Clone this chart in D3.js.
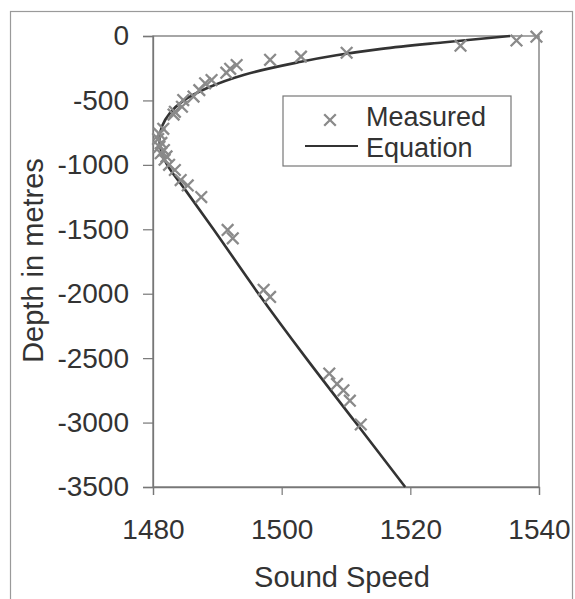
<!DOCTYPE html>
<html>
<head>
<meta charset="utf-8">
<script src="https://cdn.jsdelivr.net/npm/d3@7/dist/d3.min.js"></script>
<style>
  html, body { margin: 0; padding: 0; background: #ffffff; }
  svg { display: block; }
  text { font-family: "Liberation Sans", Arial, sans-serif; fill: #333; }
</style>
</head>
<body>
<svg id="chart" width="575" height="599"></svg>
<script>
// Measured sound speed (m/s) against depth (m)
const measuredSpeed = [1539.6, 1536.5, 1527.8, 1510.1, 1503.0, 1498.2, 1493.0, 1492.0, 1491.4,
  1489.1, 1488.1, 1487.2, 1486.3, 1484.7, 1484.5, 1483.4, 1483.2,
  1481.6, 1481.0, 1480.8, 1481.3, 1481.0, 1481.7, 1481.2, 1482.1, 1481.8, 1482.5, 1483.4,
  1484.3, 1485.4, 1487.5, 1491.6, 1492.4, 1497.2, 1498.2,
  1507.4, 1508.6, 1509.6, 1510.6, 1512.3];
const measuredDepth = [-5, -35, -75, -130, -160, -185, -225, -255, -285,
  -342, -367, -420, -470, -497, -549, -588, -610,
  -720, -760, -800, -830, -860, -885, -910, -935, -960, -1000, -1040,
  -1118, -1160, -1250, -1505, -1570, -1970, -2025,
  -2620, -2700, -2750, -2830, -3015];

// Fitted equation curve
const eqDepth = [0, -50, -100, -150, -200, -300, -400, -500, -600, -700, -800, -900, -1000,
  -1200, -1500, -2000, -2500, -3000, -3500];
const eqSpeed = [1535.5, 1525.0, 1515.5, 1508.5, 1503.0, 1494.2, 1488.6, 1484.8, 1482.6, 1481.4,
  1481.0, 1481.3, 1482.2, 1485.1, 1489.4, 1496.4, 1503.8, 1511.5, 1519.2];

const xTicks = [1480, 1500, 1520, 1540];
const yTicks = [0, -500, -1000, -1500, -2000, -2500, -3000, -3500];
const legendLabels = ["Measured", "Equation"];

const svg = d3.select("#chart");
const plot = { left: 153, right: 539, top: 36, bottom: 487 };

const x = d3.scaleLinear().domain([1480, 1540]).range([plot.left, plot.right]);
const y = d3.scaleLinear().domain([0, -3500]).range([plot.top, plot.bottom]);

// outer chart frame
svg.append("rect")
  .attr("x", 10.5).attr("y", 11.5).attr("width", 562).attr("height", 620)
  .attr("fill", "#ffffff").attr("stroke", "#9a9a9a").attr("stroke-width", 1.2);

// plot area
svg.append("rect")
  .attr("x", plot.left).attr("y", plot.top)
  .attr("width", plot.right - plot.left).attr("height", plot.bottom - plot.top)
  .attr("fill", "#ffffff").attr("stroke", "#777").attr("stroke-width", 1.3);

// axes (plain hyphen for negative numbers)
const plain = d => String(d);
const yAxis = svg.append("g")
  .attr("transform", `translate(${plot.left},0)`)
  .call(d3.axisLeft(y).tickValues(yTicks).tickSize(10).tickPadding(14).tickFormat(plain));
const xAxis = svg.append("g")
  .attr("transform", `translate(0,${plot.bottom})`)
  .call(d3.axisBottom(x).tickValues(xTicks).tickSize(8).tickPadding(24).tickFormat(plain));

[xAxis, yAxis].forEach(g => {
  g.select(".domain").attr("stroke", "#777").attr("stroke-width", 1.3);
  g.selectAll(".tick line").attr("stroke", "#777").attr("stroke-width", 1.2);
  g.selectAll(".tick text")
    .attr("font-size", 28)
    .attr("fill", "#333")
    .style("font-family", "'Liberation Sans', Arial, sans-serif");
});
xAxis.selectAll(".tick text").attr("dy", "0.71em");

// axis titles
svg.append("text")
  .attr("x", (plot.left + plot.right) / 2 - 4).attr("y", 587)
  .attr("text-anchor", "middle").attr("font-size", 29)
  .text("Sound Speed");
svg.append("text")
  .attr("transform", `translate(43,${(plot.top + plot.bottom) / 2 - 1}) rotate(-90)`)
  .attr("text-anchor", "middle").attr("font-size", 29)
  .text("Depth in metres");

// equation curve
const eqData = eqDepth.map((d, i) => ({ depth: d, speed: eqSpeed[i] }));
svg.append("path")
  .datum(eqData)
  .attr("fill", "none")
  .attr("stroke", "#333")
  .attr("stroke-width", 2.6)
  .attr("d", d3.line().x(d => x(d.speed)).y(d => y(d.depth)).curve(d3.curveCatmullRom));

// measured points as crosses
const half = 5.8;
const crossPath = (cx, cy) =>
  `M${cx - half},${cy - half}L${cx + half},${cy + half}M${cx - half},${cy + half}L${cx + half},${cy - half}`;
const pts = measuredDepth.map((d, i) => ({ depth: d, speed: measuredSpeed[i] }));
svg.append("g").selectAll("path")
  .data(pts)
  .join("path")
  .attr("d", d => crossPath(x(d.speed), y(d.depth)))
  .attr("stroke", "#8a8a8a")
  .attr("stroke-width", 2.3)
  .attr("fill", "none");

// legend
const lg = svg.append("g");
lg.append("rect")
  .attr("x", 283).attr("y", 96).attr("width", 228).attr("height", 70)
  .attr("fill", "#ffffff").attr("stroke", "#777").attr("stroke-width", 1.2);
lg.append("path")
  .attr("d", crossPath(330, 120))
  .attr("stroke", "#8a8a8a").attr("stroke-width", 2.3);
lg.append("line")
  .attr("x1", 305).attr("x2", 358).attr("y1", 146).attr("y2", 146)
  .attr("stroke", "#333").attr("stroke-width", 2.2);
lg.selectAll("text.leg")
  .data(legendLabels)
  .join("text")
  .attr("class", "leg")
  .attr("x", 366)
  .attr("y", (d, i) => 126 + i * 31)
  .attr("font-size", 27)
  .text(d => d);
</script>
</body>
</html>
